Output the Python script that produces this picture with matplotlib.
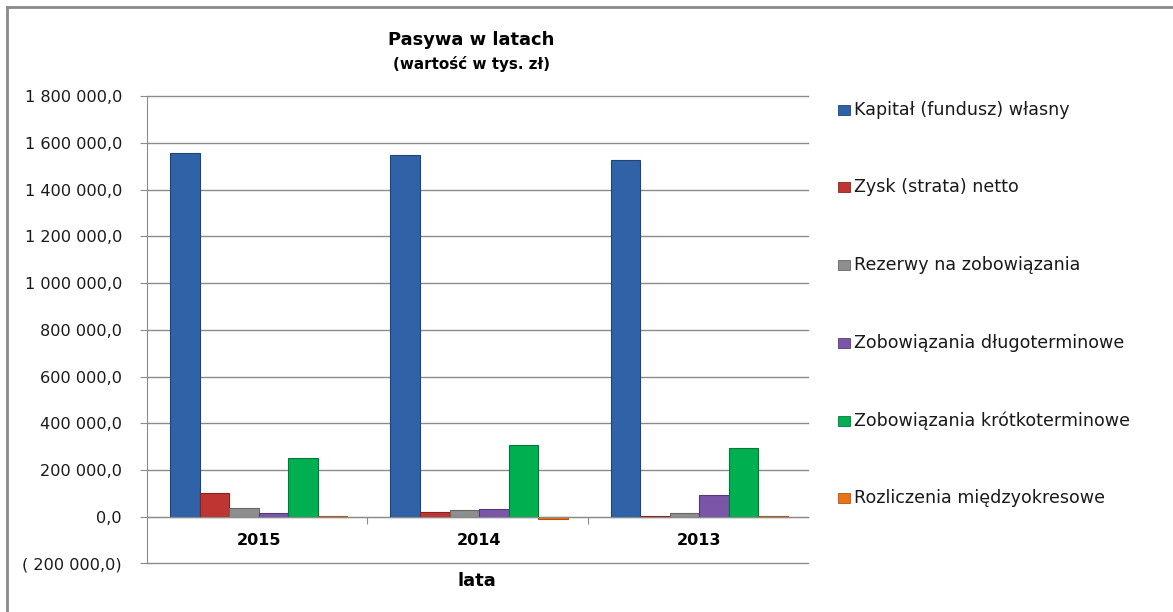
import numpy as np
import matplotlib.pyplot as plt
from matplotlib.patches import Rectangle
from matplotlib.lines import Line2D
from matplotlib.ticker import FuncFormatter

plt.rcParams["font.family"] = "DejaVu Sans"

years = ["2015", "2014", "2013"]
series = [
    "Kapitał (fundusz) własny",
    "Zysk (strata) netto",
    "Rezerwy na zobowiązania",
    "Zobowiązania długoterminowe",
    "Zobowiązania krótkoterminowe",
    "Rozliczenia międzyokresowe",
]
kapital = [1558000, 1550000, 1526000]
zysk = [102800, 21000, 3000]
rezerwy = [38500, 28700, 17000]
zob_dlugo = [14500, 34000, 93000]
zob_krotko = [252700, 306000, 295500]
rozliczenia = [1500, -9000, 1000]
values = [kapital, zysk, rezerwy, zob_dlugo, zob_krotko, rozliczenia]

colors = ["#2F62A6", "#BE3632", "#8E8E8E", "#7B56A8", "#00B050", "#E8731A"]
edges = ["#1F4478", "#8A2220", "#666666", "#553A7A", "#007A38", "#B35510"]


def fmt(v, pos):
    s = f"{abs(v):,.1f}".replace(",", " ").replace(".", ",")
    if v < 0:
        return "( " + s + ")"
    return s


fig = plt.figure(figsize=(11.73, 6.12), dpi=100)
ax = fig.add_axes([0.1253, 0.0796, 0.5636, 0.7629])

x = np.arange(len(years))
w = 0.134
for i, (vals, c, ec) in enumerate(zip(values, colors, edges)):
    ax.bar(x + 0.007 + (i - 2.5) * w, vals, w, color=c, edgecolor=ec,
           linewidth=0.8, zorder=3)

ax.set_xlim(-0.5, 2.5)
ax.set_ylim(-200000, 1800000)
ax.set_yticks(np.arange(-200000, 1800001, 200000))
ax.yaxis.set_major_formatter(FuncFormatter(fmt))
ax.grid(axis="y", color="#8C8C8C", linewidth=1.0, zorder=0)
for gl in ax.get_ygridlines():
    gl.set_clip_on(False)
ax.tick_params(axis="y", length=5, color="#8C8C8C", labelsize=11.6, pad=13,
               labelcolor="#1A1A1A")

ax.spines["top"].set_visible(False)
ax.spines["right"].set_visible(False)
ax.spines["left"].set_color("#8C8C8C")
ax.spines["bottom"].set_position(("data", 0))
ax.spines["bottom"].set_color("#8C8C8C")
ax.spines["bottom"].set_zorder(4)
ax.set_xticks([0.5, 1.5])
ax.set_xticklabels([])
ax.tick_params(axis="x", length=5, color="#8C8C8C", direction="out")
for xi, yr in zip(x, years):
    ax.text(xi + 0.007, -103000, yr, ha="center", va="center", fontsize=11.5,
            fontweight="bold")

fig.text(471 / 1173, 1 - 40 / 612, "Pasywa w latach", ha="center", va="center",
         fontsize=12.9, fontweight="bold")
fig.text(471 / 1173, 1 - 64 / 612, "(wartość w tys. zł)", ha="center",
         va="center", fontsize=10.9, fontweight="bold")
fig.text(477 / 1173, 1 - 581 / 612, "lata", ha="center", va="center",
         fontsize=13, fontweight="bold")

# legend drawn by hand to match the wide spacing
leg_y = [110, 187, 265, 343, 421, 498]
for name, c, ec, yp in zip(series, colors, edges, leg_y):
    fy = 1 - yp / 612
    fig.patches.append(Rectangle((838 / 1173, fy - 5 / 612), 12 / 1173, 10 / 612,
                                 transform=fig.transFigure, facecolor=c,
                                 edgecolor=ec, linewidth=0.6))
    fig.text(854 / 1173, fy, name, ha="left", va="center", fontsize=12.6,
             color="#1A1A1A")

# outer chart border (top and left visible)
fig.add_artist(Line2D([7 / 1173, 1], [1 - 7 / 612, 1 - 7 / 612],
                      transform=fig.transFigure, color="#8A8A8A", linewidth=2))
fig.add_artist(Line2D([7 / 1173, 7 / 1173], [0, 1 - 7 / 612],
                      transform=fig.transFigure, color="#8A8A8A", linewidth=2))

fig.savefig("out.png", dpi=100)
